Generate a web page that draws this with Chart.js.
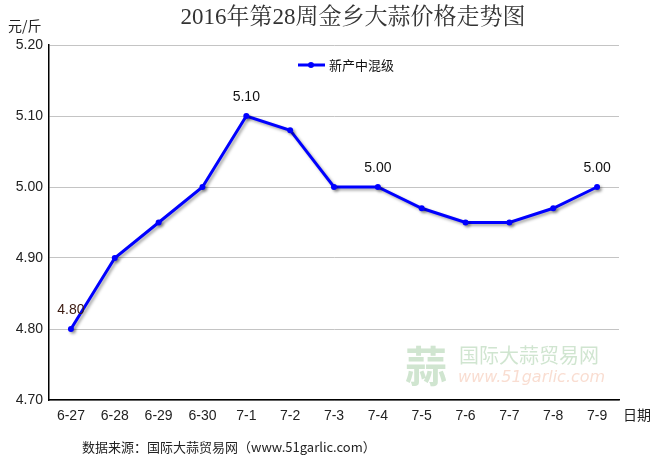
<!DOCTYPE html>
<html>
<head>
<meta charset="utf-8">
<script src="https://cdn.jsdelivr.net/npm/chart.js@4"></script>
<style>
  html, body { margin: 0; padding: 0; background: #fff; }
  #wrap { width: 664px; height: 461px; position: relative; }
</style>
</head>
<body>
<div id="wrap"><canvas id="chart" width="664" height="461"></canvas></div>
<script>
// 数据
const dates = ['6-27', '6-28', '6-29', '6-30', '7-1', '7-2', '7-3', '7-4', '7-5', '7-6', '7-7', '7-8', '7-9'];
const prices = [4.80, 4.90, 4.95, 5.00, 5.10, 5.08, 5.00, 5.00, 4.97, 4.95, 4.95, 4.97, 5.00];
const labelIdx = [0, 4, 7, 12];
const seriesName = '新产中混级';
const titleText = '2016年第28周金乡大蒜价格走势图';
const sourceText = '数据来源：国际大蒜贸易网（www.51garlic.com）';

const narrow = "'Liberation Sans Narrow', 'Arial Narrow', 'Liberation Sans', Arial, sans-serif";
const cjk = "'Noto Sans CJK SC', sans-serif";

// 标题、单位、图例、水印、数据标签
const extras = {
    id: 'extras',
    beforeDatasetDraw(chart) {
        const c = chart.ctx;
        c.save();
        c.shadowColor = 'rgba(0,0,0,0.35)';
        c.shadowOffsetX = 2;
        c.shadowOffsetY = 2;
        c.shadowBlur = 3;
    },
    afterDatasetDraw(chart) {
        chart.ctx.restore();
    },
    beforeDatasetsDraw(chart) {
        // 水印
        const c = chart.ctx;
        c.save();
        c.fillStyle = 'rgba(120,180,120,0.35)';
        c.font = "bold 42px 'Noto Sans CJK SC'";
        c.textBaseline = 'middle';
        c.fillText('蒜', 405, 366);
        c.font = "20px 'Noto Sans CJK SC'";
        c.fillText('国际大蒜贸易网', 459, 355);
        c.fillStyle = 'rgba(240,170,140,0.4)';
        c.font = "italic 16px 'DejaVu Sans'";
        c.fillText('www.51garlic.com', 458, 378);
        c.restore();
    },
    afterDraw(chart) {
        const c = chart.ctx;
        const xs = chart.scales.x, ys = chart.scales.y;
        c.save();
        // 标题
        c.fillStyle = '#333';
        c.font = "23px 'Liberation Serif', 'Noto Serif CJK SC', serif";
        c.textAlign = 'center';
        c.textBaseline = 'middle';
        c.fillText(titleText, 353, 18);
        // 单位
        c.fillStyle = '#222';
        c.font = "14px " + cjk;
        c.textAlign = 'left';
        c.fillText('元/斤', 8, 26);
        c.fillText('日期', 623, 415);
        // 来源
        c.font = "13px " + cjk;
        c.fillText(sourceText, 82, 447);
        // 图例
        c.strokeStyle = '#0000ff';
        c.lineWidth = 3;
        c.beginPath();
        c.moveTo(298, 65);
        c.lineTo(325, 65);
        c.stroke();
        c.fillStyle = '#0000ff';
        c.beginPath();
        c.arc(311, 65, 3, 0, Math.PI * 2);
        c.fill();
        c.fillStyle = '#111';
        c.font = "13px " + cjk;
        c.fillText(seriesName, 329, 65);
        // 数据标签
        c.font = "14px " + narrow;
        c.textAlign = 'center';
        labelIdx.forEach(i => {
            const x = xs.getPixelForValue(i);
            const y = ys.getPixelForValue(prices[i]);
            c.fillStyle = i === 0 ? '#3a1a10' : '#111';
            c.fillText(prices[i].toFixed(2), x, y - 19);
        });
        c.restore();
    }
};

new Chart(document.getElementById('chart'), {
    type: 'line',
    data: {
        labels: dates,
        datasets: [{
            label: seriesName,
            data: prices,
            borderColor: '#0000ff',
            backgroundColor: '#0000ff',
            borderWidth: 3,
            pointRadius: 3,
            pointBorderWidth: 0,
            pointHoverRadius: 3,
            tension: 0
        }]
    },
    options: {
        responsive: false,
        animation: false,
        layout: { padding: { top: 45, right: 45, left: 0, bottom: 0 } },
        plugins: {
            legend: { display: false },
            title: { display: false },
            tooltip: { enabled: false }
        },
        scales: {
            x: {
                offset: true,
                grid: { display: false, drawTicks: false },
                border: { color: '#000', width: 1.5 },
                ticks: {
                    color: '#222',
                    font: { size: 14, family: narrow },
                    padding: 8,
                    maxRotation: 0,
                    autoSkip: false
                },
                afterFit(s) { s.height = 61; }
            },
            y: {
                min: 4.70,
                max: 5.20,
                grid: { color: '#c4c4c4', drawTicks: false },
                border: { color: '#000', width: 1.5 },
                ticks: {
                    stepSize: 0.1,
                    color: '#222',
                    font: { size: 14, family: narrow },
                    padding: 6,
                    callback: v => v.toFixed(2)
                },
                afterFit(s) { s.width = 49; }
            }
        }
    },
    plugins: [extras]
});
</script>
</body>
</html>
